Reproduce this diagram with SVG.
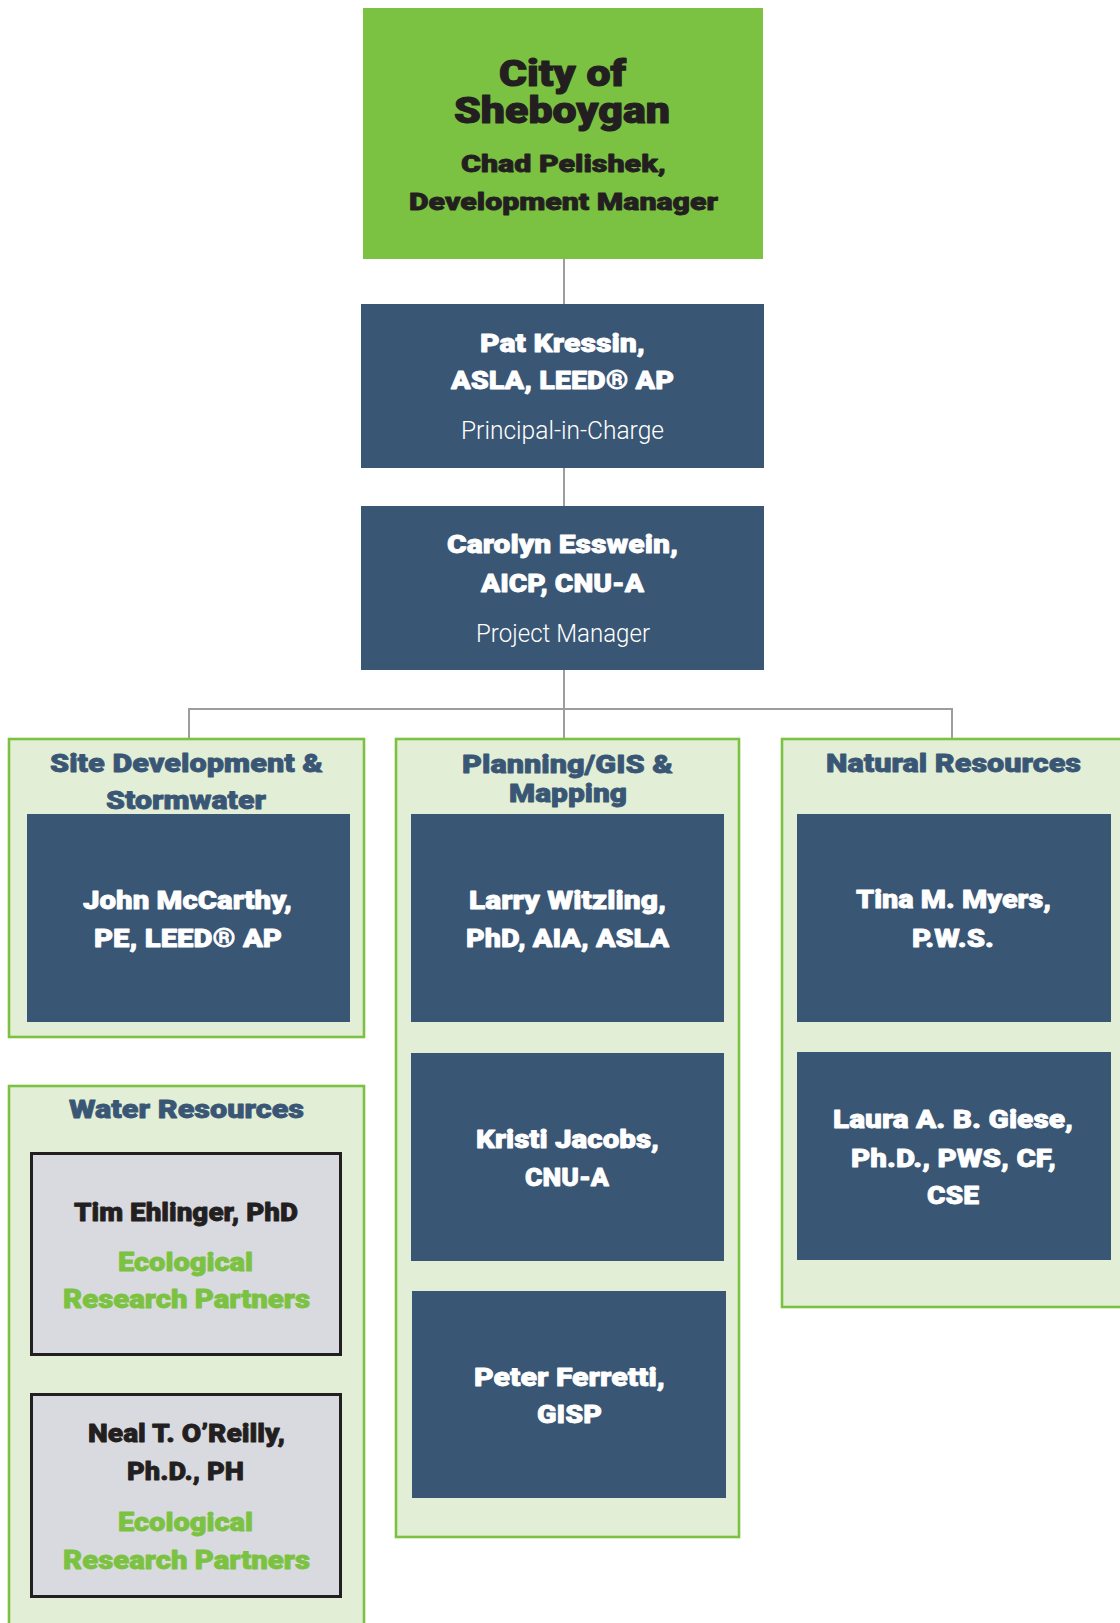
<svg xmlns="http://www.w3.org/2000/svg" width="1120" height="1623" viewBox="0 0 1120 1623">
<style>
  .bg{fill:#ffffff}
  .top{fill:#7cc242}
  .blue{fill:#3a5675}
  .sect{fill:#e2eed6;stroke:#7cc242;stroke-width:2.6}
  .gray{fill:#d9dadf;stroke:#231f20;stroke-width:3}
  .conn{fill:none;stroke:#9d9d9d;stroke-width:2}
  text{font-family:Roboto,"Liberation Sans",Arial,sans-serif;font-weight:900;text-anchor:middle;stroke-linejoin:round}
  .big{font-size:37px;fill:#231f20;stroke:#231f20;stroke-width:1.1}
  .mgr{font-size:24px;fill:#231f20;stroke:#231f20;stroke-width:0.8}
  .nm{font-size:26.5px;fill:#ffffff;stroke:#ffffff;stroke-width:0.8}
  .role{font-size:26.5px;font-weight:300;fill:#ffffff}
  .ttl{font-size:26.5px;fill:#3a5675;stroke:#3a5675;stroke-width:0.8}
  .dk{font-size:26.5px;fill:#231f20;stroke:#231f20;stroke-width:0.8}
  .grn{font-size:25.5px;fill:#7cc242;stroke:#7cc242;stroke-width:0.8}
</style>
<rect class="bg" x="0" y="0" width="1120" height="1623"/>

<g id="connectors">
  <line class="conn" x1="564" y1="259" x2="564" y2="304"/>
  <line class="conn" x1="564" y1="468" x2="564" y2="506"/>
  <line class="conn" x1="564" y1="670" x2="564" y2="738"/>
  <polyline class="conn" points="189,738 189,709 952,709 952,738"/>
</g>

<g id="city">
  <rect class="top" x="363" y="8" width="400" height="251"/>
  <text class="big" x="562.5" y="86" textLength="127" lengthAdjust="spacingAndGlyphs">City of</text>
  <text class="big" x="562" y="123" textLength="216" lengthAdjust="spacingAndGlyphs">Sheboygan</text>
  <text class="mgr" x="563.5" y="172" textLength="205" lengthAdjust="spacingAndGlyphs">Chad Pelishek,</text>
  <text class="mgr" x="563.5" y="210" textLength="309" lengthAdjust="spacingAndGlyphs">Development Manager</text>
</g>

<g id="pat">
  <rect class="blue" x="361" y="304" width="403" height="164"/>
  <text class="nm" x="562.5" y="352" textLength="165" lengthAdjust="spacingAndGlyphs">Pat Kressin,</text>
  <text class="nm" x="562.5" y="389" textLength="223" lengthAdjust="spacingAndGlyphs">ASLA, LEED® AP</text>
  <text class="role" x="562.5" y="439" textLength="203" lengthAdjust="spacingAndGlyphs">Principal-in-Charge</text>
</g>

<g id="carolyn">
  <rect class="blue" x="361" y="506" width="403" height="164"/>
  <text class="nm" x="562.5" y="553" textLength="231" lengthAdjust="spacingAndGlyphs">Carolyn Esswein,</text>
  <text class="nm" x="562.5" y="592" textLength="163" lengthAdjust="spacingAndGlyphs">AICP, CNU-A</text>
  <text class="role" x="563" y="642" textLength="174" lengthAdjust="spacingAndGlyphs">Project Manager</text>
</g>

<g id="site">
  <rect class="sect" x="9" y="739" width="355" height="298"/>
  <text class="ttl" x="186.5" y="772" textLength="273" lengthAdjust="spacingAndGlyphs">Site Development &amp;</text>
  <text class="ttl" x="186" y="809" textLength="160" lengthAdjust="spacingAndGlyphs">Stormwater</text>
</g>
<g id="mccarthy">
  <rect class="blue" x="27" y="814" width="323" height="208"/>
  <text class="nm" x="187.5" y="909" textLength="209" lengthAdjust="spacingAndGlyphs">John McCarthy,</text>
  <text class="nm" x="188" y="947" textLength="188" lengthAdjust="spacingAndGlyphs">PE, LEED® AP</text>
</g>

<g id="planning">
  <rect class="sect" x="396" y="739" width="343" height="798"/>
  <text class="ttl" x="567.5" y="773" textLength="211" lengthAdjust="spacingAndGlyphs">Planning/GIS &amp;</text>
  <text class="ttl" x="568" y="802" textLength="118" lengthAdjust="spacingAndGlyphs">Mapping</text>
</g>
<g id="witzling">
  <rect class="blue" x="411" y="814" width="313" height="208"/>
  <text class="nm" x="567.5" y="909" textLength="197" lengthAdjust="spacingAndGlyphs">Larry Witzling,</text>
  <text class="nm" x="567.5" y="947" textLength="203" lengthAdjust="spacingAndGlyphs">PhD, AIA, ASLA</text>
</g>
<g id="jacobs">
  <rect class="blue" x="411" y="1053" width="313" height="208"/>
  <text class="nm" x="567.5" y="1148" textLength="183" lengthAdjust="spacingAndGlyphs">Kristi Jacobs,</text>
  <text class="nm" x="567" y="1186" textLength="84" lengthAdjust="spacingAndGlyphs">CNU-A</text>
</g>
<g id="ferretti">
  <rect class="blue" x="412" y="1291" width="314" height="207"/>
  <text class="nm" x="569.5" y="1386" textLength="191" lengthAdjust="spacingAndGlyphs">Peter Ferretti,</text>
  <text class="nm" x="569.5" y="1423" textLength="65" lengthAdjust="spacingAndGlyphs">GISP</text>
</g>

<g id="natural">
  <rect class="sect" x="782" y="739" width="360" height="568"/>
  <text class="ttl" x="953.5" y="772" textLength="255" lengthAdjust="spacingAndGlyphs">Natural Resources</text>
</g>
<g id="myers">
  <rect class="blue" x="797" y="814" width="314" height="208"/>
  <text class="nm" x="953.5" y="908" textLength="195" lengthAdjust="spacingAndGlyphs">Tina M. Myers,</text>
  <text class="nm" x="953" y="947" textLength="82" lengthAdjust="spacingAndGlyphs">P.W.S.</text>
</g>
<g id="giese">
  <rect class="blue" x="797" y="1052" width="314" height="208"/>
  <text class="nm" x="953" y="1128" textLength="240" lengthAdjust="spacingAndGlyphs">Laura A. B. Giese,</text>
  <text class="nm" x="953.5" y="1167" textLength="205" lengthAdjust="spacingAndGlyphs">Ph.D., PWS, CF,</text>
  <text class="nm" x="953" y="1204" textLength="52" lengthAdjust="spacingAndGlyphs">CSE</text>
</g>

<g id="water">
  <rect class="sect" x="9" y="1086" width="355" height="560"/>
  <text class="ttl" x="186.5" y="1118" textLength="235" lengthAdjust="spacingAndGlyphs">Water Resources</text>
</g>
<g id="ehlinger">
  <rect class="gray" x="31.5" y="1153.5" width="309" height="201"/>
  <text class="dk" x="186" y="1221" textLength="224" lengthAdjust="spacingAndGlyphs">Tim Ehlinger, PhD</text>
  <text class="grn" x="185.5" y="1271" textLength="135" lengthAdjust="spacingAndGlyphs">Ecological</text>
  <text class="grn" x="186.5" y="1308" textLength="247" lengthAdjust="spacingAndGlyphs">Research Partners</text>
</g>
<g id="oreilly">
  <rect class="gray" x="31.5" y="1394.5" width="309" height="202"/>
  <text class="dk" x="186.5" y="1442" textLength="197" lengthAdjust="spacingAndGlyphs">Neal T. O’Reilly,</text>
  <text class="dk" x="185.5" y="1480" textLength="117" lengthAdjust="spacingAndGlyphs">Ph.D., PH</text>
  <text class="grn" x="185.5" y="1531" textLength="135" lengthAdjust="spacingAndGlyphs">Ecological</text>
  <text class="grn" x="186.5" y="1569" textLength="247" lengthAdjust="spacingAndGlyphs">Research Partners</text>
</g>
</svg>
